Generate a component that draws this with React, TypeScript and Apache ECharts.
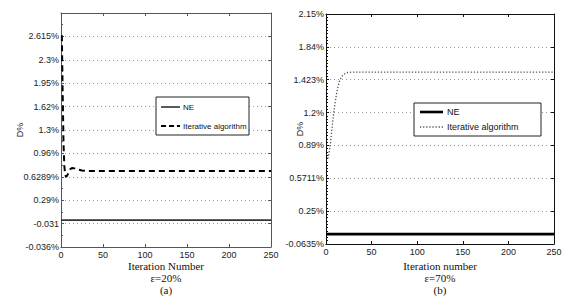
import React, { useEffect, useRef } from 'react';
import * as echarts from 'echarts';

// ---- Panel (a): ε=20% ----
// y positions are expressed in tick-slot units (MATLAB custom tick labels)
const leftYTickLabels = ['-0.036%', '-0.031', '0.29%', '0.6289%', '0.96%', '1.3%', '1.62%', '1.95%', '2.3%', '2.615%'];
const leftNE: [number, number][] = [[0, 1.15], [250, 1.15]];
const leftIterative: [number, number][] = [
  [1, 9.05], [2, 6.6], [3, 4.4], [4, 3.45], [5, 3.08], [6, 3.0], [7, 3.03], [9, 3.18],
  [11, 3.32], [13, 3.38], [16, 3.36], [20, 3.31], [25, 3.27], [30, 3.25], [50, 3.25],
  [100, 3.25], [150, 3.25], [200, 3.25], [250, 3.25],
];

// ---- Panel (b): ε=70% ----
const rightYTickLabels = ['-0.0635%', '0.25%', '0.5711%', '0.89%', '1.2%', '1.423%', '1.84%', '2.15%'];
const rightNE: [number, number][] = [[0, 0.3], [250, 0.3]];
const rightIterative: [number, number][] = [
  [2, 2.6], [3, 2.73], [4, 2.9], [5, 3.1], [6, 3.36], [7, 3.63], [8, 3.88], [9, 4.1],
  [10, 4.3], [11, 4.48], [12, 4.64], [13, 4.77], [14, 4.88], [15, 4.97], [17, 5.08],
  [19, 5.15], [21, 5.19], [24, 5.22], [28, 5.23], [50, 5.23], [100, 5.23], [150, 5.23],
  [200, 5.23], [250, 5.23],
];

const sans = "'Liberation Sans', Arial, Helvetica, sans-serif";
const serif = "'Liberation Serif', 'Times New Roman', Times, serif";

export default function App() {
  const ref = useRef<HTMLDivElement>(null);
  useEffect(() => {
    if (!ref.current) return;
    const chart = echarts.init(ref.current, null, { renderer: 'svg' });

    const gridLine = { show: true, lineStyle: { color: '#9a9a9a', type: [1, 3], width: 1 } };
    const mkX = (grid: number, color: string, position: 'bottom' | 'top') => ({
      type: 'value', gridIndex: grid, min: 0, max: 250, interval: 50, position,
      axisLine: { show: true, onZero: false, lineStyle: { color, width: 1 } },
      axisTick: { show: true, inside: true, length: 3, lineStyle: { color } },
      axisLabel: position === 'bottom'
        ? { show: true, color: '#222', fontFamily: sans, fontSize: 9, margin: 3, showMaxLabel: true }
        : { show: false },
      splitLine: { show: false },
    });
    const mkY = (grid: number, color: string, max: number, labels: string[] | null, position: 'left' | 'right', minorSplit: number, gap: number) => ({
      type: 'value', gridIndex: grid, min: 0, max, interval: 1, position,
      axisLine: { show: true, onZero: false, lineStyle: { color, width: 1 } },
      axisTick: { show: true, inside: true, length: 3, lineStyle: { color } },
      minorTick: { show: position === 'left', splitNumber: minorSplit, length: 2, lineStyle: { color } },
      axisLabel: labels
        ? {
            show: true, color: '#222', fontFamily: sans, fontSize: 9, margin: 2,
            formatter: (v: number) => (labels[Math.round(v)] ?? ''),
          }
        : { show: false },
      splitLine: position === 'left' ? gridLine : { show: false },
      name: labels ? 'D%' : '',
      nameLocation: 'middle',
      nameGap: gap,
      nameMoveOverlap: false,
      nameRotate: 90,
      nameTextStyle: { fontFamily: sans, fontSize: 9, color: '#222' },
    });

    const option: any = {
      animation: false,
      backgroundColor: '#fff',
      grid: [
        { left: 61, top: 13, width: 210, height: 234, show: false },
        { left: 326, top: 14, width: 228, height: 230, show: false },
      ],
      xAxis: [
        mkX(0, '#555', 'bottom'),
        mkX(0, '#555', 'top'),
        mkX(1, '#111', 'bottom'),
        mkX(1, '#111', 'top'),
      ],
      yAxis: [
        mkY(0, '#555', 10, leftYTickLabels, 'left', 2, 37),
        mkY(0, '#555', 10, null, 'right', 2, 0),
        mkY(1, '#111', 7, rightYTickLabels, 'left', 10, 22),
        mkY(1, '#111', 7, null, 'right', 10, 0),
      ],
      series: [
        {
          name: 'NE', type: 'line', xAxisIndex: 0, yAxisIndex: 0, data: leftNE,
          symbol: 'none', lineStyle: { color: '#333', width: 1.6 },
        },
        {
          name: 'Iterative algorithm', type: 'line', xAxisIndex: 0, yAxisIndex: 0, data: leftIterative,
          symbol: 'none', lineStyle: { color: '#000', width: 2, type: [6, 4] },
        },
        {
          name: 'NE', type: 'line', xAxisIndex: 2, yAxisIndex: 2, data: rightNE,
          symbol: 'none', lineStyle: { color: '#000', width: 2.6 },
        },
        {
          name: 'Iterative algorithm', type: 'line', xAxisIndex: 2, yAxisIndex: 2, data: rightIterative,
          symbol: 'none', lineStyle: { color: '#555', width: 1.3, type: [1.3, 1.8] },
        },
      ],
      graphic: [
        // left legend
        { type: 'rect', shape: { x: 156, y: 97, width: 93, height: 38 }, style: { fill: '#fff', stroke: '#222', lineWidth: 1 }, z: 50 },
        { type: 'line', shape: { x1: 161, y1: 107, x2: 180, y2: 107 }, style: { stroke: '#333', lineWidth: 1.6 }, z: 51 },
        { type: 'line', shape: { x1: 161, y1: 126, x2: 180, y2: 126 }, style: { stroke: '#000', lineWidth: 2, lineDash: [5, 3] }, z: 51 },
        { type: 'text', x: 183, y: 107, style: { text: 'NE', fontFamily: sans, fontSize: 8, fill: '#111', verticalAlign: 'middle' }, z: 51 },
        { type: 'text', x: 183, y: 126, style: { text: 'Iterative algorithm', fontFamily: sans, fontSize: 8, fill: '#111', verticalAlign: 'middle' }, z: 51 },
        // right legend
        { type: 'rect', shape: { x: 414, y: 103, width: 127, height: 33 }, style: { fill: '#fff', stroke: '#222', lineWidth: 1 }, z: 50 },
        { type: 'line', shape: { x1: 420, y1: 112, x2: 443, y2: 112 }, style: { stroke: '#000', lineWidth: 2.6 }, z: 51 },
        { type: 'line', shape: { x1: 420, y1: 127, x2: 443, y2: 127 }, style: { stroke: '#555', lineWidth: 1.3, lineDash: [1.3, 1.8] }, z: 51 },
        { type: 'text', x: 447, y: 112, style: { text: 'NE', fontFamily: sans, fontSize: 9, fill: '#111', verticalAlign: 'middle' }, z: 51 },
        { type: 'text', x: 447, y: 127, style: { text: 'Iterative algorithm', fontFamily: sans, fontSize: 9, fill: '#111', verticalAlign: 'middle' }, z: 51 },
        // captions
        { type: 'text', x: 166, y: 266, style: { text: 'Iteration Number', fontFamily: serif, fontSize: 11, fill: '#111', align: 'center', verticalAlign: 'middle' } },
        { type: 'text', x: 166, y: 278, style: { text: 'ε=20%', fontFamily: serif, fontSize: 11, fill: '#111', align: 'center', verticalAlign: 'middle' } },
        { type: 'text', x: 166, y: 290, style: { text: '(a)', fontFamily: serif, fontSize: 11, fill: '#111', align: 'center', verticalAlign: 'middle' } },
        { type: 'text', x: 440, y: 266, style: { text: 'Iteration number', fontFamily: serif, fontSize: 11, fill: '#111', align: 'center', verticalAlign: 'middle' } },
        { type: 'text', x: 440, y: 278, style: { text: 'ε=70%', fontFamily: serif, fontSize: 11, fill: '#111', align: 'center', verticalAlign: 'middle' } },
        { type: 'text', x: 440, y: 290, style: { text: '(b)', fontFamily: serif, fontSize: 11, fill: '#111', align: 'center', verticalAlign: 'middle' } },
      ],
    };
    chart.setOption(option);
    return () => chart.dispose();
  }, []);
  return <div ref={ref} style={{ position: 'fixed', left: 0, top: 0, width: 572, height: 300, background: '#fff' }} />;
}
